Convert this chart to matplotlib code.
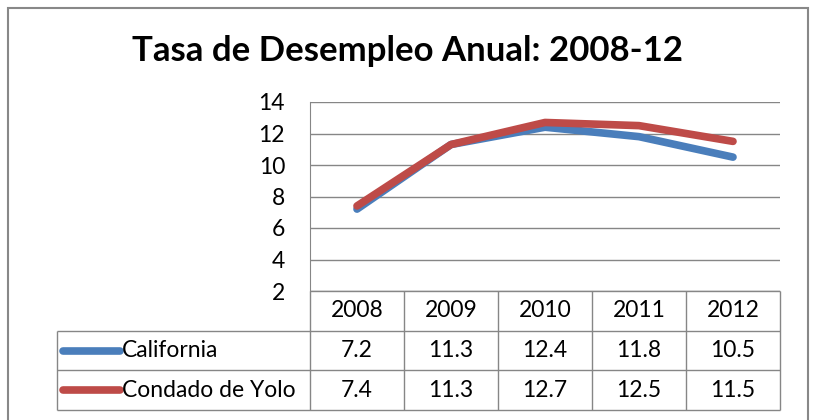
import matplotlib.pyplot as plt
from matplotlib.patches import Rectangle

years = ['2008', '2009', '2010', '2011', '2012']
california = [7.2, 11.3, 12.4, 11.8, 10.5]
yolo = [7.4, 11.3, 12.7, 12.5, 11.5]
series_names = ['California', 'Condado de Yolo']
yticks = [2, 4, 6, 8, 10, 12, 14]

plt.rcParams['font.family'] = ['Lato', 'DejaVu Sans']
W, H = 815, 420
grey = '#868686'
colors = ['#4A7EBB', '#BE4B48']
fs = 16.5

fig = plt.figure(figsize=(W / 100, H / 100), dpi=100)

def box(l, t, r, b):
    return [l / W, 1 - b / H, (r - l) / W, (b - t) / H]

# outer frame
fig.patches.append(Rectangle((8 / W, -0.05), 800 / W, 1 - 8 / H + 0.05,
                             transform=fig.transFigure, fill=False,
                             edgecolor='#888888', linewidth=1.5))

fig.text(407 / W, 1 - 51 / H, 'Tasa de Desempleo Anual: 2008-12',
         ha='center', va='center', fontsize=25, fontweight='bold')

# plot area
ax = fig.add_axes(box(310, 102, 780, 291))
x = range(len(years))
for vals, c in zip([california, yolo], colors):
    ax.plot(x, vals, color=c, linewidth=5.5, solid_capstyle='round',
            solid_joinstyle='round')
ax.set_xlim(-0.5, len(years) - 0.5)
ax.set_ylim(2, 14)
ax.set_yticks(yticks)
ax.set_xticks([])
ax.yaxis.grid(True, color=grey, linewidth=1)
ax.set_axisbelow(True)
for s in ['top', 'right', 'bottom']:
    ax.spines[s].set_visible(False)
ax.spines['left'].set_color(grey)
ax.tick_params(axis='y', length=0, labelsize=fs, pad=18)

# data table
left = (57 - 310) / 94 - 0.5
n = len(years)
tax = fig.add_axes(box(57, 291, 780, 410))
tax.set_xlim(left, n - 0.5)
tax.set_ylim(3, 0)
tax.axis('off')
lw = 1
tax.hlines(0, -0.5, n - 0.5, color=grey, lw=lw, clip_on=False)
for yy in [1, 2, 3]:
    tax.hlines(yy, left, n - 0.5, color=grey, lw=lw, clip_on=False)
for i in range(n + 1):
    tax.vlines(i - 0.5, 0, 3, color=grey, lw=lw, clip_on=False)
tax.vlines(left, 1, 3, color=grey, lw=lw, clip_on=False)

for i, yr in enumerate(years):
    tax.text(i, 0.5, yr, ha='center', va='center', fontsize=fs)
for r, (name, vals, c) in enumerate(zip(series_names, [california, yolo], colors)):
    yy = r + 1.5
    tax.plot([left + 0.06, left + 0.67], [yy, yy], color=c, linewidth=5.5,
             solid_capstyle='round', clip_on=False)
    tax.text(left + 0.69, yy, name, ha='left', va='center', fontsize=fs)
    for i, v in enumerate(vals):
        tax.text(i, yy, f'{v}', ha='center', va='center', fontsize=fs)

fig.savefig('out.png', dpi=100)
